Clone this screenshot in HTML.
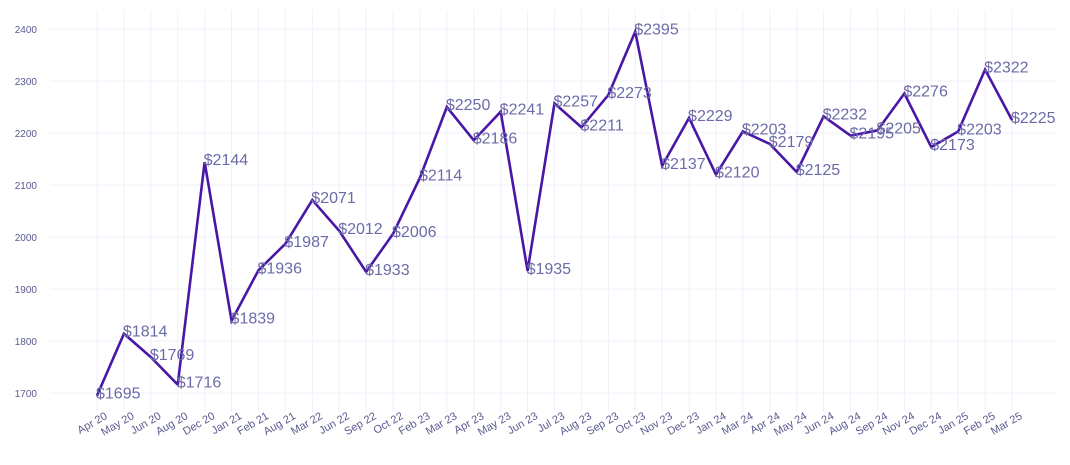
<!DOCTYPE html>
<html><head><meta charset="utf-8"><style>
body{margin:0;background:#fff;}
svg{display:block;font-family:"Liberation Sans",sans-serif;}
</style></head><body>
<svg id="chart" width="1070" height="465" viewBox="0 0 1070 465">
<g id="grid"></g>
<g id="yaxis"></g>
<g id="xaxis"></g>
<g id="series"></g>
<g id="labels"></g>
</svg>
<script>
const categories=["Apr 20","May 20","Jun 20","Aug 20","Dec 20","Jan 21","Feb 21","Aug 21","Mar 22","Jun 22","Sep 22","Oct 22","Feb 23","Mar 23","Apr 23","May 23","Jun 23","Jul 23","Aug 23","Sep 23","Oct 23","Nov 23","Dec 23","Jan 24","Mar 24","Apr 24","May 24","Jun 24","Aug 24","Sep 24","Nov 24","Dec 24","Jan 25","Feb 25","Mar 25"];
const values=[1695,1814,1769,1716,2144,1839,1936,1987,2071,2012,1933,2006,2114,2250,2186,2241,1935,2257,2211,2273,2395,2137,2229,2120,2203,2179,2125,2232,2195,2205,2276,2173,2203,2322,2225];
const yTicks=[1700,1800,1900,2000,2100,2200,2300,2400];
const NS="http://www.w3.org/2000/svg";
const x0=97,x1=1012,yBase=393,yTop=29;
function xs(i){return x0+(x1-x0)*i/(categories.length-1);}
function ys(v){return yBase-(v-1700)*(yBase-yTop)/700;}
function mk(t,a,p){const e=document.createElementNS(NS,t);for(const k in a)e.setAttribute(k,a[k]);p.appendChild(e);return e;}
const grid=document.getElementById('grid'),ya=document.getElementById('yaxis'),xa=document.getElementById('xaxis'),ser=document.getElementById('series'),lab=document.getElementById('labels');
yTicks.forEach(v=>{
  const l=mk('line',{x1:50,x2:1056,y1:ys(v),y2:ys(v),stroke:'#f0effb','stroke-width':1},grid);
  
  
  const t=mk('text',{x:37,y:ys(v)+4,'text-anchor':'end','font-size':10,fill:'#5a5a90'},ya);
  t.textContent=v;
  
  
});
categories.forEach((c,i)=>{
  const l=mk('line',{x1:xs(i),x2:xs(i),y1:10,y2:412,stroke:'#f0effb','stroke-width':1},grid);
  
  
  const t=mk('text',{transform:`translate(${xs(i)+11},${418}) rotate(-30)`,'text-anchor':'end','font-size':11,fill:'#5a5a90'},xa);
  t.textContent=c;
  
  
});
const pts=values.map((v,i)=>xs(i)+','+ys(v)).join(' ');
const pl=mk('polyline',{points:pts,fill:'none',stroke:'#4a16a6','stroke-width':2.6,'stroke-linejoin':'miter'},ser);


values.forEach((v,i)=>{
  const t=mk('text',{x:xs(i)-1,y:ys(v)+3,'font-size':16,fill:'#6b6ba8'},lab);
  t.textContent='$'+v;
  
  
});
</script>
</body></html>
